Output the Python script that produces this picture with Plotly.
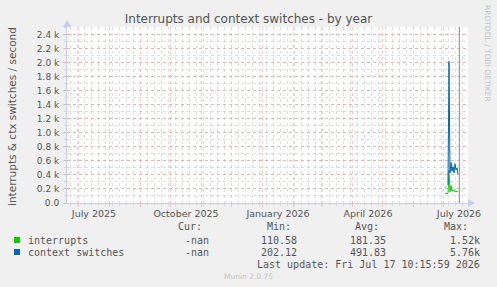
import plotly.graph_objects as go
import numpy as np

# ---- data ----
dates = ["2026-07-03", "2026-07-04", "2026-07-05", "2026-07-06", "2026-07-07",
         "2026-07-08", "2026-07-09", "2026-07-10", "2026-07-11", "2026-07-12",
         "2026-07-13", "2026-07-14", "2026-07-15", "2026-07-16"]
interrupts = [130, 130, 135, 140, 470, 160, 250, 170, 190, 165, 170, 165, 160, 160]
context_switches = [220, 235, np.nan, 260, 2020, 430, 580, 450, 520, 430, 560, 470, 500, 410]

series_names = ["interrupts", "context switches"]
series_colors = ["#00cc00", "#0066b3"]
stats_cur = ["-nan", "-nan"]
stats_min = ["110.58", "202.12"]
stats_avg = ["181.35", "491.83"]
stats_max = ["1.52k", "5.76k"]

y_tickvals = [0, 200, 400, 600, 800, 1000, 1200, 1400, 1600, 1800, 2000, 2200, 2400]
y_ticktext = ["0.0", "0.2 k", "0.4 k", "0.6 k", "0.8 k", "1.0 k", "1.2 k", "1.4 k",
              "1.6 k", "1.8 k", "2.0 k", "2.2 k", "2.4 k"]
x_labelvals = ["2025-07-17", "2025-10-17", "2026-01-17", "2026-04-17", "2026-07-17"]
x_labeltext = ["July 2025", "October 2025", "January 2026", "April 2026", "July 2026"]
x_range = ["2025-06-20", "2026-07-26"]
y_range = [0, 2510]
now = "2026-07-17 10:15:59"

# ---- layout geometry ----
W, H = 497, 287
X0, X1, YB, YT = 67, 468, 203, 27


def px(x):
    return (x - X0) / (X1 - X0)


def py(y):
    return (YB - y) / (YB - YT)


TXT = "#555555"
AXIS = "#c8cbf2"
MAJ = "rgba(235,120,120,0.42)"
MIN = "rgba(170,170,170,0.38)"

fig = go.Figure()
fig.add_trace(go.Scatter(x=dates, y=interrupts, mode="lines", name=series_names[0],
                         line=dict(color=series_colors[0], width=1), connectgaps=False,
                         showlegend=False, hoverinfo="skip"))
fig.add_trace(go.Scatter(x=dates, y=context_switches, mode="lines", name=series_names[1],
                         line=dict(color=series_colors[1], width=1), connectgaps=False,
                         showlegend=False, hoverinfo="skip"))
# invisible trace to carry label axis
fig.add_trace(go.Scatter(x=x_labelvals, y=[None] * len(x_labelvals), xaxis="x2",
                         mode="markers", showlegend=False, hoverinfo="skip"))

fig.update_layout(
    width=W, height=H,
    margin=dict(l=X0, r=W - X1, t=YT, b=H - YB, pad=0),
    paper_bgcolor="#f0f0f0", plot_bgcolor="#ffffff",
    font=dict(family="DejaVu Sans", color=TXT, size=9),
    title=dict(text="Interrupts and context switches - by year", x=0.5, xanchor="center",
               y=1 - 19 / H, yanchor="middle",
               font=dict(family="DejaVu Sans", size=12, color=TXT)),
    xaxis=dict(type="date", range=x_range, showticklabels=False,
               tick0="2025-07-01", dtick="M1", showgrid=True, gridcolor=MAJ,
               griddash="dot", gridwidth=1, ticks="outside", ticklen=3, tickcolor=MAJ,
               minor=dict(tick0="2025-06-23", dtick=7 * 86400000, showgrid=True,
                          gridcolor=MIN, griddash="dot", ticks="outside", ticklen=2,
                          tickcolor=MIN),
               showline=True, linecolor=AXIS, linewidth=1, zeroline=False, fixedrange=True),
    xaxis2=dict(type="date", overlaying="x", matches="x", side="bottom",
                tickmode="array", tickvals=x_labelvals, ticktext=x_labeltext,
                showgrid=False, showline=False, ticks="", zeroline=False,
                tickfont=dict(family="DejaVu Sans", size=9.5, color=TXT),
                ticklabelstandoff=3),
    yaxis=dict(range=y_range, tickmode="array", tickvals=y_tickvals, ticktext=y_ticktext,
               showgrid=True, gridcolor=MAJ, griddash="dot", gridwidth=1,
               ticks="outside", ticklen=3, tickcolor=MAJ,
               minor=dict(tickmode="linear", tick0=0, dtick=100, showgrid=True,
                          gridcolor=MIN, griddash="dot", ticks="outside", ticklen=2,
                          tickcolor=MIN),
               tickfont=dict(family="DejaVu Sans", size=9, color=TXT),
               ticklabelstandoff=2,
               showline=True, linecolor=AXIS, linewidth=1, zeroline=False, fixedrange=True),
)

shapes = []
# now line
shapes.append(dict(type="line", xref="x", yref="paper", x0=now, x1=now, y0=0, y1=1,
                   line=dict(color="#999999", width=1.2)))
# axis arrows
shapes.append(dict(type="path", xref="paper", yref="paper",
                   path=f"M {px(468)} {py(199)} L {px(475)} {py(203)} L {px(468)} {py(207)} Z",
                   fillcolor=AXIS, line=dict(width=0)))
shapes.append(dict(type="path", xref="paper", yref="paper",
                   path=f"M {px(63)} {py(27)} L {px(67)} {py(20)} L {px(71)} {py(27)} Z",
                   fillcolor=AXIS, line=dict(width=0)))
# legend squares
for i, c in enumerate(series_colors):
    yc = 240 + 12 * i
    shapes.append(dict(type="rect", xref="paper", yref="paper",
                       x0=px(14), x1=px(20), y0=py(yc + 3), y1=py(yc - 3),
                       fillcolor=c, line=dict(width=0)))
fig.update_layout(shapes=shapes)

MONO = "DejaVu Sans Mono"
ann = []


def add_text(text, xr, yc, size=10, color=TXT, family=MONO, anchor="right", angle=0):
    ann.append(dict(text=text, xref="paper", yref="paper", x=px(xr), y=py(yc),
                    xanchor=anchor, yanchor="middle", showarrow=False, textangle=angle,
                    font=dict(family=family, size=size, color=color)))


# y-axis title
add_text("interrupts &amp; ctx switches / second", 12, 117, size=10.5,
         family="DejaVu Sans", anchor="center", angle=-90)
# watermark
add_text("RRDTOOL / TOBI OETIKER", 488, 53, size=7.5, color="#c4c4c4",
         family="DejaVu Sans", anchor="center", angle=90)
# headers
for t, xr in zip(["Cur:", "Min:", "Avg:", "Max:"], [204, 293, 381, 470]):
    add_text(t, xr, 227)
for i in range(2):
    yc = 240 + 12 * i
    add_text(series_names[i], 26, yc, anchor="left")
    add_text(stats_cur[i], 211, yc)
    add_text(stats_min[i], 299, yc)
    add_text(stats_avg[i], 388, yc)
    add_text(stats_max[i], 482, yc)
add_text("Last update: Fri Jul 17 10:15:59 2026", 482, 264)
add_text("Munin 2.0.75", 248, 276, size=7.5, color="#c4c4c4", family="DejaVu Sans",
         anchor="center")
fig.update_layout(annotations=ann)

fig.write_html("out.html")
